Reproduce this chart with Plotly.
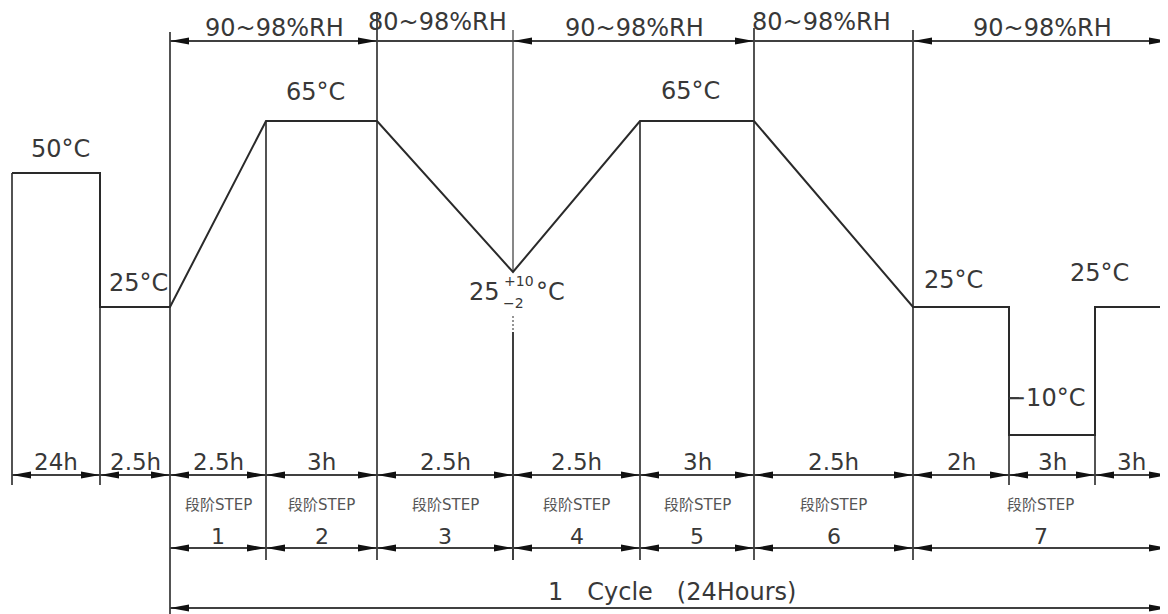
import plotly.graph_objects as go

# ---- data (schematic diagram units) ----
boundaries = [12, 100, 170, 266, 377, 513, 640, 754, 913, 1009, 1095, 1168]
durations = ["24h", "2.5h", "2.5h", "3h", "2.5h", "2.5h", "3h", "2.5h", "2h", "3h", "3h"]

# temperature profile (diagram levels)
profile_x = [12, 100, 100, 170, 266, 377, 513, 640, 754, 913, 1009, 1009, 1095, 1095, 1168]
profile_y = [173, 173, 307, 307, 121, 121, 272, 121, 121, 307, 307, 435, 435, 307, 307]

temp_labels = ["50°C", "25°C", "65°C", "65°C", "25°C", "25°C", "−10°C"]
temp_label_x = [60, 138, 315, 690, 953, 1099, 1045]
temp_label_y = [149, 283, 92, 91, 280, 273, 398]

# humidity zones
rh_edges = [170, 377, 513, 754, 913, 1168]
rh_labels = ["90~98%RH", "80~98%RH", "90~98%RH", "80~98%RH", "90~98%RH"]
rh_label_x = [274, 437, 634, 821, 1042]
rh_label_y = [28, 22, 28, 22, 28]
rh_arrows = [True, False, True, False, True]

# steps
step_edges = [170, 266, 377, 513, 640, 754, 913, 1168]
step_numbers = ["1", "2", "3", "4", "5", "6", "7"]
step_word = "段阶STEP"

cycle_label = "1\u2003Cycle\u2003(24Hours)"
cycle_span = [170, 1168]

# extension lines: x, top, bottom
ext_x = [12, 100, 170, 266, 377, 640, 754, 913, 1009, 1095]
ext_top = [173, 173, 32, 121, 12, 121, 28, 30, 307, 307]
ext_bot = [485, 485, 614, 560, 560, 560, 560, 560, 485, 485]

# rows (diagram y)
Y_RH, Y_HOURS, Y_STEP, Y_CYCLE = 41, 475, 548, 608

LINE = "#2a2a2a"
DIM = "#404040"
TXT = "#383838"
FONT = "DejaVu Sans, Noto Sans CJK SC"

fig = go.Figure()

# extension lines
ex, ey = [], []
for x, t, b in zip(ext_x, ext_top, ext_bot):
    ex += [x, x, None]
    ey += [t, b, None]
fig.add_trace(go.Scatter(x=ex, y=ey, mode="lines", line=dict(color=DIM, width=1.8),
                         hoverinfo="skip", showlegend=False))

# centre line at the V (lighter, broken around label)
fig.add_trace(go.Scatter(x=[513, 513], y=[30, 272], mode="lines",
                         line=dict(color="#7a7a7a", width=1.8), hoverinfo="skip", showlegend=False))
fig.add_trace(go.Scatter(x=[513, 513], y=[316, 332], mode="lines",
                         line=dict(color="#7a7a7a", width=1.6, dash="2px,2px"), hoverinfo="skip", showlegend=False))
fig.add_trace(go.Scatter(x=[513, 513], y=[332, 560], mode="lines",
                         line=dict(color=LINE, width=1.8), hoverinfo="skip", showlegend=False))
# small tick for -10 label
fig.add_trace(go.Scatter(x=[1009, 1019], y=[398, 398], mode="lines",
                         line=dict(color=LINE, width=1.5), hoverinfo="skip", showlegend=False))

# profile
fig.add_trace(go.Scatter(x=profile_x, y=profile_y, mode="lines",
                         line=dict(color=LINE, width=2.0), hoverinfo="skip", showlegend=False))

shapes = []
AL, AH = 19, 3.5


def arrow(xtip, y, direction):
    base = xtip - direction * AL
    shapes.append(dict(type="path", xref="x", yref="y",
                       path=f"M {xtip} {y} L {base} {y - AH} L {base} {y + AH} Z",
                       fillcolor="#111111", line=dict(width=0)))


def dim_row(edges, y, with_arrows=None):
    lx, ly = [], []
    for i in range(len(edges) - 1):
        a, b = edges[i], edges[i + 1]
        lx += [a, b, None]
        ly += [y, y, None]
        if with_arrows is None or with_arrows[i]:
            arrow(a, y, -1)
            arrow(b, y, 1)
    fig.add_trace(go.Scatter(x=lx, y=ly, mode="lines", line=dict(color=DIM, width=1.8),
                             hoverinfo="skip", showlegend=False))


dim_row(rh_edges, Y_RH, rh_arrows)
dim_row(boundaries, Y_HOURS)
dim_row(step_edges, Y_STEP)
dim_row(cycle_span, Y_CYCLE)

annotations = []


def txt(x, y, s, size, color=TXT, xanchor="center"):
    annotations.append(dict(x=x, y=y, xref="x", yref="y", text=s, showarrow=False,
                            font=dict(family=FONT, size=size, color=color),
                            xanchor=xanchor, yanchor="middle"))


for s, x, y in zip(rh_labels, rh_label_x, rh_label_y):
    txt(x, y, s, 24)
for s, x, y in zip(temp_labels, temp_label_x, temp_label_y):
    txt(x, y, s, 24)
for i, s in enumerate(durations):
    cx = (boundaries[i] + boundaries[i + 1]) / 2
    txt(cx, 462, s, 23)
for i, s in enumerate(step_numbers):
    cx = (step_edges[i] + step_edges[i + 1]) / 2
    txt(cx, 505, step_word, 15, color="#555555")
    txt(cx, 536, s, 22)
txt(672, 592, cycle_label, 24)

# 25 (+10 / -2) °C label at the V bottom
txt(484, 292, "25", 24)
txt(519, 281, "+10", 14)
txt(513, 303, "−2", 14)
txt(550, 292, "°C", 24)

# The page body has an 8px margin, so the plot starts 8px in from the window edge.
fig.update_layout(
    width=1160, height=606,
    margin=dict(l=0, r=0, t=0, b=0),
    paper_bgcolor="white", plot_bgcolor="white",
    xaxis=dict(range=[8, 1168], visible=False, fixedrange=True),
    yaxis=dict(range=[614, 8], visible=False, fixedrange=True),
    shapes=shapes, annotations=annotations,
)

fig.write_html("out.html")
